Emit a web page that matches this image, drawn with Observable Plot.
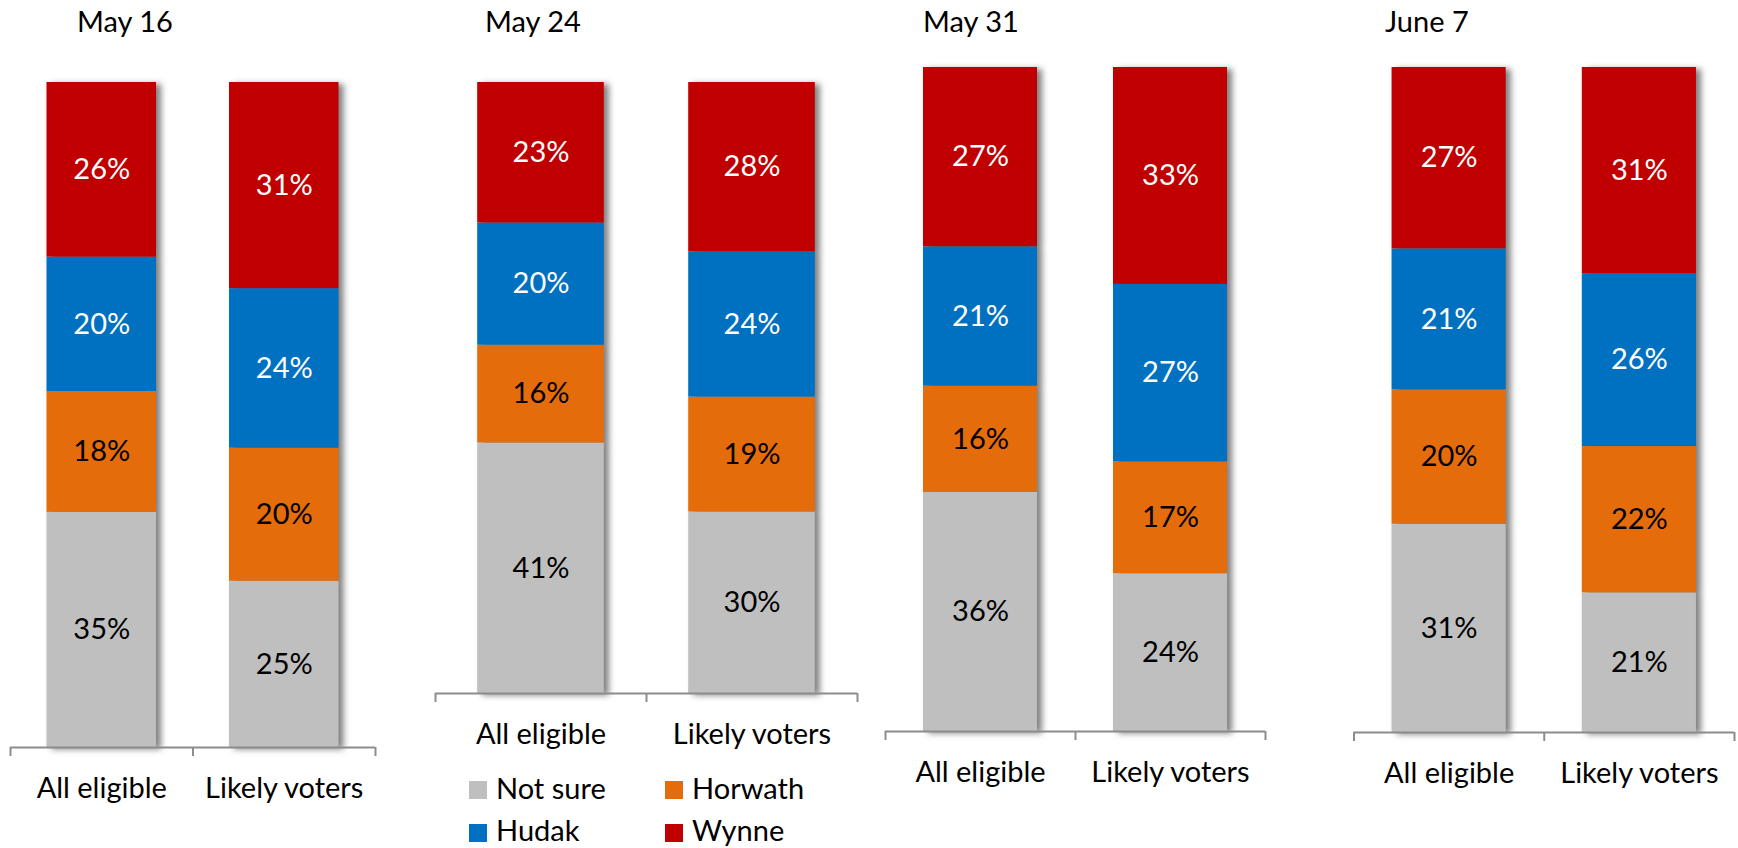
<!DOCTYPE html>
<html><head><meta charset="utf-8">
<script src="https://cdn.jsdelivr.net/npm/d3@7"></script>
<script src="https://cdn.jsdelivr.net/npm/@observablehq/plot@0.6"></script>
<style>
html,body{margin:0;padding:0;background:#fff;}
#root{position:relative;width:1738px;height:848px;overflow:hidden;font-family:Lato,"Open Sans",sans-serif;color:#000;}
.panel{position:absolute;top:0;}
.title,.leg{position:absolute;font-size:29px;line-height:1;white-space:nowrap;}
.sw{position:absolute;width:18px;height:18px;}
</style></head><body><div id="root"></div>
<script>
const dates = ["May 16", "May 24", "May 31", "June 7"];
const categories = ["All eligible", "Likely voters"];
const series = ["Not sure", "Horwath", "Hudak", "Wynne"];
const seriesColors = ["#BFBFBF", "#E46C0A", "#0070C0", "#C00000"];
const labelColors = ["#000000", "#000000", "#ffffff", "#ffffff"];
// values per panel: [All eligible, Likely voters] x 4 dates
const notSure = [35, 25, 41, 30, 36, 24, 31, 21];
const horwath = [18, 20, 16, 19, 16, 17, 20, 22];
const hudak   = [20, 24, 20, 24, 21, 27, 21, 26];
const wynne   = [26, 31, 23, 28, 27, 33, 27, 31];
const legendOrder = ["Not sure", "Horwath", "Hudak", "Wynne"];

const values = [notSure, horwath, hudak, wynne];
const rows = [];
dates.forEach((d, p) => categories.forEach((c, i) => series.forEach((s, k) =>
  rows.push({panel: p, i, category: c, series: s, value: values[k][p * 2 + i]}))));

// layout of each panel (pixels)
const panels = [
  {left: 0,    width: 400, ml: 10,   mr: 25, top: 82, axis: 747, titleX: 77},
  {left: 420,  width: 450, ml: 15,   mr: 13, top: 82, axis: 693, titleX: 485},
  {left: 870,  width: 430, ml: 15,   mr: 35, top: 67, axis: 731, titleX: 923},
  {left: 1330, width: 408, ml: 23.5, mr: 4,  top: 67, axis: 732, titleX: 1385}
];
const H = 848;
const root = document.getElementById("root");
const fill = d => seriesColors[series.indexOf(d.series)];
const tfill = d => labelColors[series.indexOf(d.series)];

panels.forEach((g, p) => {
  const data = rows.filter(r => r.panel === p);
  const plot = Plot.plot({
    width: g.width, height: H,
    marginLeft: g.ml, marginRight: g.mr, marginTop: g.top, marginBottom: H - g.axis,
    x: {domain: [0, 2], axis: null},
    y: {domain: [0, 1], axis: null},
    color: {type: "identity"},
    style: {fontFamily: "Lato, 'Open Sans', sans-serif", fontSize: "29px", background: "transparent", overflow: "visible"},
    marks: [
      Plot.rectY(data, Plot.stackY({x1: d => d.i + 0.2, x2: d => d.i + 0.8, y: "value", z: "series", fill, offset: "normalize"})),
      Plot.text(data, Plot.stackY({x: d => d.i + 0.5, y: "value", z: "series", text: d => d.value + "%", fill: tfill, offset: "normalize", fontSize: 29})),
      Plot.ruleY([0], {stroke: "#8c8c8c", strokeWidth: 2}),
      Plot.axisX({ticks: [0, 1, 2], tickSize: 9, tickFormat: () => "", stroke: "#8c8c8c", strokeWidth: 2}),
      Plot.axisX({ticks: [0.5, 1.5], tickSize: 0, tickPadding: 30, tickFormat: d => categories[Math.floor(d)], fontSize: 29, fill: "#000"})
    ]
  });
  plot.classList.add("panel");
  plot.style.left = g.left + "px";
  const rg = plot.querySelector('g[aria-label="rect"]');
  if (rg) rg.style.filter = "drop-shadow(5px 2px 3px rgba(0,0,0,0.5))";
  root.appendChild(plot);
  const t = document.createElement("div");
  t.className = "title";
  t.textContent = dates[p];
  t.style.left = g.titleX + "px";
  t.style.top = "6px";
  root.appendChild(t);
});

// legend
const legPos = [
  {sx: 469, tx: 496, sy: 781, ty: 773},
  {sx: 665, tx: 692, sy: 781, ty: 773},
  {sx: 469, tx: 496, sy: 824, ty: 815},
  {sx: 665, tx: 692, sy: 824, ty: 815}
];
legendOrder.forEach((s, j) => {
  const pos = legPos[j];
  const sw = document.createElement("div");
  sw.className = "sw";
  sw.style.left = pos.sx + "px"; sw.style.top = pos.sy + "px";
  sw.style.background = seriesColors[series.indexOf(s)];
  root.appendChild(sw);
  const tx = document.createElement("div");
  tx.className = "leg";
  tx.textContent = s;
  tx.style.left = pos.tx + "px"; tx.style.top = pos.ty + "px";
  root.appendChild(tx);
});
</script></body></html>
